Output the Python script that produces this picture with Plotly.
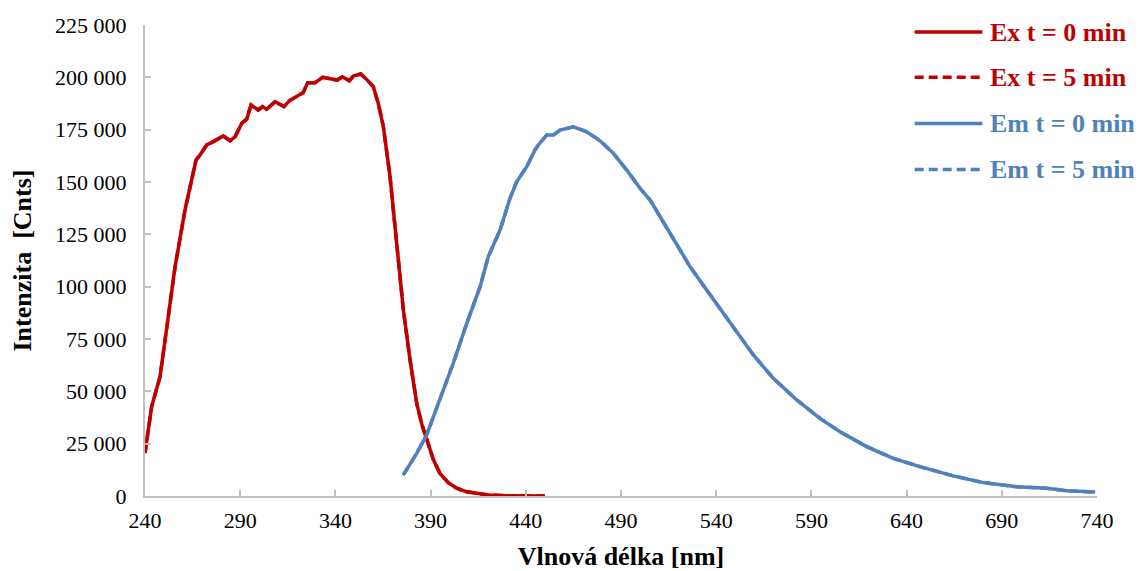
import plotly.graph_objects as go

# Excitation spectrum (t = 0 min)
ex_x = [240, 243.5, 247.9, 251.4, 255.8, 261, 263.6, 266.8, 268.9, 272.4, 275.9, 281.1, 284.6, 287.3,
        290.8, 293.4, 295.7, 299.5, 301.8, 303.9, 308.3, 313, 315.8, 319.7, 323.1, 325.4, 329.3,
        333.3, 337.2, 341, 343.7, 347.3, 349.4, 353.3, 356.4, 359.9, 362.5, 365.2, 368.7, 372.2,
        375.7, 379.2, 382.7, 385.3, 387.9, 391.4, 394.9, 399.3, 403.7, 409, 414.2, 420, 430, 440, 450]
ex_y = [20500, 42700, 57000, 80900, 109500, 136600, 147800, 160500, 162900, 167700, 169300, 172000,
        169700, 171600, 178000, 180000, 186800, 184400, 186000, 184700, 188400, 186000, 188800,
        191100, 192700, 197400, 197400, 200000, 199500, 198700, 200300, 198400, 200600, 201600,
        199000, 195500, 187600, 176400, 152500, 120700, 88800, 65000, 44300, 34500, 26800, 17500,
        10800, 6400, 3700, 2000, 1300, 500, 150, 0, 0]

# Emission spectrum (t = 0 min)
em_x = [375.6, 382.7, 387.9, 394.9, 401.9, 409, 416, 420.3, 426.5, 431.7, 435.2, 440.5, 444.8, 446.6,
        451, 454.5, 458, 465, 468, 472, 479, 486, 493, 500, 505.3, 510.5, 518.4, 526.3, 535, 543.7,
        552.5, 559.5, 570, 582.3, 594.5, 605, 619, 633, 647, 655.8, 664.5, 680.3, 697.8, 713.6,
        724.1, 739]
em_y = [10000, 20400, 29100, 45900, 63400, 82500, 100000, 114400, 127100, 142200, 150100, 157300,
        165300, 167700, 172500, 172500, 174800, 176400, 175500, 174000, 169700, 163700, 155700,
        147000, 141400, 133400, 121500, 109500, 98400, 87300, 76100, 67400, 56200, 45900, 37100,
        30700, 23600, 18000, 14000, 11600, 9600, 6400, 4400, 3700, 2500, 1900]

# t = 5 min spectra coincide with t = 0 min (hidden beneath the solid lines)
ex5_x, ex5_y = list(ex_x), list(ex_y)
em5_x, em5_y = list(em_x), list(em_y)

x_ticks = [240, 290, 340, 390, 440, 490, 540, 590, 640, 690, 740]
y_ticks = [0, 25000, 50000, 75000, 100000, 125000, 150000, 175000, 200000, 225000]
y_tick_labels = ["0", "25 000", "50 000", "75 000", "100 000", "125 000", "150 000",
                 "175 000", "200 000", "225 000"]

legend_names = ["Ex t = 0 min", "Ex t = 5 min", "Em t = 0 min", "Em t = 5 min"]

RED = "#C00000"
BLUE = "#4F81BD"
AXIS = "#BFBFBF"
SERIF = "Liberation Serif, Times New Roman, serif"
LW = 3.5

fig = go.Figure()
fig.add_trace(go.Scatter(x=ex5_x, y=ex5_y, mode="lines", name=legend_names[1],
                         line=dict(color=RED, width=LW, dash="9px,5px")))
fig.add_trace(go.Scatter(x=em5_x, y=em5_y, mode="lines", name=legend_names[3],
                         line=dict(color=BLUE, width=LW, dash="9px,5px")))
fig.add_trace(go.Scatter(x=ex_x, y=ex_y, mode="lines", name=legend_names[0],
                         line=dict(color=RED, width=LW)))
fig.add_trace(go.Scatter(x=em_x, y=em_y, mode="lines", name=legend_names[2],
                         line=dict(color=BLUE, width=LW)))

# Manual legend (long line samples, coloured bold text)
leg_colors = [RED, RED, BLUE, BLUE]
leg_dash = ["solid", "9px,5px", "solid", "9px,5px"]
leg_y = [0.985, 0.889, 0.791, 0.693]
for name, col, dsh, yy in zip(legend_names, leg_colors, leg_dash, leg_y):
    fig.add_shape(type="line", xref="paper", yref="paper", x0=0.8085, x1=0.8795, y0=yy, y1=yy,
                  line=dict(color=col, width=LW, dash=dsh))
    fig.add_annotation(xref="paper", yref="paper", x=0.8855, y=yy, xanchor="left",
                       yanchor="middle", showarrow=False, text="<b>" + name + "</b>",
                       font=dict(family=SERIF, size=26, color=col))

# page body adds an 8px margin, so the figure is slightly smaller than the window
fig.update_layout(
    width=1134, height=563,
    margin=dict(l=137, r=45, t=17, b=75),
    paper_bgcolor="white", plot_bgcolor="white",
    font=dict(family=SERIF, size=22, color="black"),
    showlegend=False,
    xaxis=dict(range=[240, 740], tickvals=x_ticks, ticktext=[str(v) for v in x_ticks],
               showgrid=False, zeroline=False, showline=True, linecolor=AXIS, linewidth=2,
               ticks="inside", ticklen=6, tickcolor=AXIS, tickwidth=1.5,
               ticklabelstandoff=4, automargin=False,
               tickfont=dict(family=SERIF, size=22, color="black"),
               title=dict(text="<b>Vlnová délka [nm]</b>", font=dict(family=SERIF, size=26),
                          standoff=14)),
    yaxis=dict(range=[0, 225000], tickvals=y_ticks, ticktext=y_tick_labels,
               showgrid=False, zeroline=False, showline=True, linecolor=AXIS, linewidth=2,
               ticks="inside", ticklen=6, tickcolor=AXIS, tickwidth=1.5,
               ticklabelstandoff=12, automargin=False,
               tickfont=dict(family=SERIF, size=22, color="black"),
               title=dict(text="<b>Intenzita  [Cnts]</b>", font=dict(family=SERIF, size=26),
                          standoff=17)),
)

fig.write_html("out.html")
